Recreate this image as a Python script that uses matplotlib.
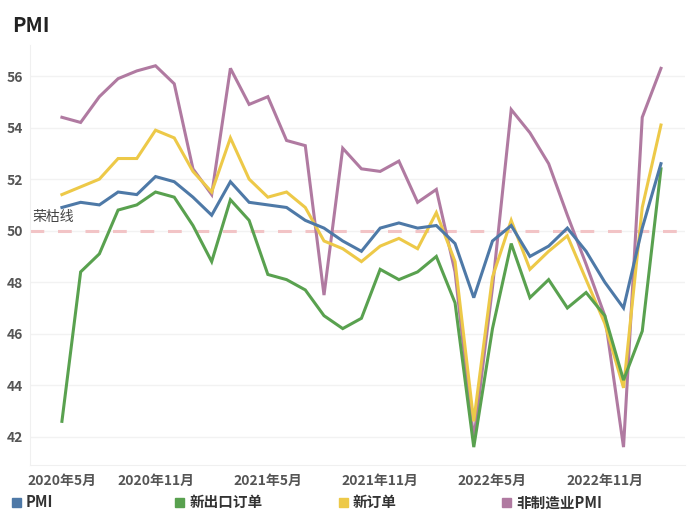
import numpy as np
import matplotlib
matplotlib.use('Agg')
import matplotlib.pyplot as plt
from matplotlib.patches import Rectangle

plt.rcParams['font.family'] = ['Noto Sans CJK SC', 'DejaVu Sans']

# 2020-06 .. 2023-02
months = ['2020-06', '2020-07', '2020-08', '2020-09', '2020-10', '2020-11', '2020-12',
          '2021-01', '2021-02', '2021-03', '2021-04', '2021-05', '2021-06', '2021-07',
          '2021-08', '2021-09', '2021-10', '2021-11', '2021-12', '2022-01', '2022-02',
          '2022-03', '2022-04', '2022-05', '2022-06', '2022-07', '2022-08', '2022-09',
          '2022-10', '2022-11', '2022-12', '2023-01', '2023-02']
pmi = [50.9, 51.1, 51.0, 51.5, 51.4, 52.1, 51.9, 51.3, 50.6, 51.9, 51.1, 51.0, 50.9, 50.4,
       50.1, 49.6, 49.2, 50.1, 50.3, 50.1, 50.2, 49.5, 47.4, 49.6, 50.2, 49.0, 49.4, 50.1,
       49.2, 48.0, 47.0, 50.1, 52.6]
export_orders = [42.6, 48.4, 49.1, 50.8, 51.0, 51.5, 51.3, 50.2, 48.8, 51.2, 50.4, 48.3, 48.1,
                 47.7, 46.7, 46.2, 46.6, 48.5, 48.1, 48.4, 49.0, 47.2, 41.6, 46.2, 49.5, 47.4,
                 48.1, 47.0, 47.6, 46.7, 44.2, 46.1, 52.4]
new_orders = [51.4, 51.7, 52.0, 52.8, 52.8, 53.9, 53.6, 52.3, 51.5, 53.6, 52.0, 51.3, 51.5,
              50.9, 49.6, 49.3, 48.8, 49.4, 49.7, 49.3, 50.7, 48.8, 42.6, 48.2, 50.4, 48.5,
              49.2, 49.8, 48.1, 46.4, 43.9, 50.9, 54.1]
non_mfg = [54.4, 54.2, 55.2, 55.9, 56.2, 56.4, 55.7, 52.4, 51.4, 56.3, 54.9, 55.2, 53.5, 53.3,
           47.5, 53.2, 52.4, 52.3, 52.7, 51.1, 51.6, 48.4, 41.9, 47.8, 54.7, 53.8, 52.6, 50.6,
           48.7, 46.7, 41.6, 54.4, 56.3]
tick_labels = ['2020年5月', '2020年11月', '2021年5月', '2021年11月', '2022年5月', '2022年11月']
tick_idx = [0, 5, 11, 17, 23, 29]

series = [('PMI', pmi, '#4e79a7'),
          ('新出口订单', export_orders, '#59a14f'),
          ('新订单', new_orders, '#edc948'),
          ('非制造业PMI', non_mfg, '#b07aa1')]

fig = plt.figure(figsize=(7, 5.25), dpi=100)
ax = fig.add_axes([0.043, 0.114, 0.936, 0.80])
x = np.arange(len(months))

for name, vals, c in reversed(series):
    ax.plot(x, vals, color=c, lw=2.2, solid_joinstyle='miter', zorder=3)

ax.axhline(50, color='#f2c4c6', lw=2.2, dashes=(4.5, 4.5), zorder=2)
ax.text(-1.55, 50.25, '荣枯线', fontsize=10, color='#444444', ha='left', va='bottom')

ax.set_xlim(-1.7, 33.3)
ax.set_ylim(40.9, 57.2)
ax.set_yticks(range(42, 57, 2))
ax.set_xticks(tick_idx)
ax.set_xticklabels(tick_labels)
ax.grid(axis='y', color='#f2f2f2', lw=1)
ax.set_axisbelow(True)
for s in ['top', 'right']:
    ax.spines[s].set_visible(False)
for s in ['left', 'bottom']:
    ax.spines[s].set_color('#f0f0f0')
ax.tick_params(length=0, labelsize=10, labelcolor='#555555')
ax.tick_params(axis='y', pad=5)
ax.tick_params(axis='x', pad=6)
for lab in ax.get_xticklabels() + ax.get_yticklabels():
    lab.set_fontweight('bold')

fig.text(0.017, 0.952, 'PMI', fontsize=14.5, fontweight='bold', color='#222222', va='center')

# legend row at the bottom, evenly spaced like the original
for i, (name, vals, c) in enumerate(series):
    x0 = 0.017 + i * 0.2335
    fig.patches.append(Rectangle((x0, 0.035), 0.0125, 0.0165, color=c,
                                 transform=fig.transFigure, figure=fig))
    fig.text(x0 + 0.02, 0.043, name, fontsize=10.5, fontweight='bold', color='#333333',
             va='center', ha='left')

fig.savefig('out.png', dpi=100)
